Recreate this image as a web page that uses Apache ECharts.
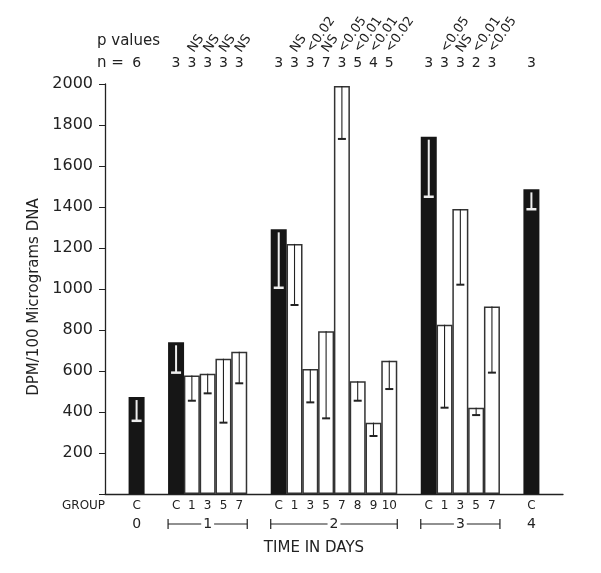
<!DOCTYPE html>
<html>
<head>
<meta charset="utf-8">
<script src="https://cdn.jsdelivr.net/npm/echarts@6.0.0/dist/echarts.min.js"></script>
<style>
  html, body { margin: 0; padding: 0; background: #fff; }
  #chart { width: 601px; height: 573px; }
</style>
</head>
<body>
<div id="chart"></div>
<script>
// values
var days = ['0', '1', '2', '3', '4'];
var barDay = [0, 1, 1, 1, 1, 1, 2, 2, 2, 2, 2, 2, 2, 2, 3, 3, 3, 3, 3, 4];
var groups = ['C', 'C', '1', '3', '5', '7', 'C', '1', '3', '5', '7', '8', '9', '10', 'C', '1', '3', '5', '7', 'C'];
var means = [473, 740, 578, 587, 660, 694, 1291, 1220, 610, 794, 1990, 550, 348, 650, 1743, 826, 1390, 421, 915, 1486];
var lower = [357, 592, 455, 491, 348, 540, 1006, 922, 447, 369, 1732, 455, 283, 512, 1450, 421, 1021, 385, 592, 1389];
var nValues = ['6', '3', '3', '3', '3', '3', '3', '3', '3', '7', '3', '5', '4', '5', '3', '3', '3', '2', '3', '3'];
var pValues = ['', '', 'NS', 'NS', 'NS', 'NS', '', 'NS', '<0.02', 'NS', '<0.05', '<0.01', '<0.01', '<0.02', '', '<0.05', 'NS', '<0.01', '<0.05', ''];

var FONT = 'DejaVu Sans';
var INK = '#222';

// half-slot category positions: bars take 2 slots, day groups 5 apart
var slot = [];
var pos = 4;
for (var i = 0; i < groups.length; i++) {
  if (i > 0) pos += barDay[i] !== barDay[i - 1] ? 5 : 2;
  slot.push(pos);
}
var nCat = slot[slot.length - 1] + 5;

function blank(v) { var a = []; for (var k = 0; k < nCat; k++) a.push(v); return a; }
var catLabels = blank(''), nLabels = blank('');
var ctrlData = blank('-'), trtData = blank('-');
var errData = [], pData = [];
slot.forEach(function (s, i) {
  catLabels[s] = groups[i];
  nLabels[s] = nValues[i];
  if (groups[i] === 'C') ctrlData[s] = means[i]; else trtData[s] = means[i];
  errData.push([s, means[i], lower[i], groups[i] === 'C' ? 1 : 0]);
  if (pValues[i]) pData.push([s, 2000, pValues[i]]);
});

var dayData = days.map(function (d, di) {
  var idx = slot.filter(function (s, i) { return barDay[i] === di; });
  return [idx[0], idx[idx.length - 1], 0];
});

function renderErr(params, api) {
  var top = api.coord([api.value(0), api.value(1)]);
  var low = api.coord([api.value(0), api.value(2)]);
  var ctrl = api.value(3) === 1;
  var color = ctrl ? '#eeeeee' : INK;
  var cap = ctrl ? 5 : 4;
  return {
    type: 'group',
    children: [
      { type: 'line', shape: { x1: top[0], y1: top[1] + (ctrl ? 3 : 0), x2: low[0], y2: low[1] },
        style: { stroke: color, lineWidth: ctrl ? 2 : 1.1 } },
      { type: 'line', shape: { x1: low[0] - cap, y1: low[1], x2: low[0] + cap, y2: low[1] },
        style: { stroke: color, lineWidth: ctrl ? 2.5 : 2 } }
    ]
  };
}

// slanted p value above each n count
function renderP(params, api) {
  var p = api.coord([api.value(0), api.value(1)]);
  return {
    type: 'text', x: p[0] - 1, y: p[1] - 33, rotation: 55 * Math.PI / 180,
    style: { text: pData[params.dataIndex][2], fill: INK, font: '13px ' + FONT,
      align: 'left', verticalAlign: 'middle' }
  };
}

function renderDay(params, api) {
  var a = api.coord([api.value(0), 0]);
  var b = api.coord([api.value(1), 0]);
  var y = a[1] + 30;
  var children = [];
  if (api.value(1) > api.value(0)) {
    var x1 = a[0] - 8, x2 = b[0] + 8;
    var st = { stroke: INK, lineWidth: 1.2 };
    children.push({ type: 'line', shape: { x1: x1, y1: y, x2: x2, y2: y }, style: st });
    children.push({ type: 'line', shape: { x1: x1, y1: y - 5, x2: x1, y2: y + 5 }, style: st });
    children.push({ type: 'line', shape: { x1: x2, y1: y - 5, x2: x2, y2: y + 5 }, style: st });
  }
  children.push({
    type: 'text', x: (a[0] + b[0]) / 2, y: y,
    style: { text: days[params.dataIndex], fill: INK, font: '14px ' + FONT,
      align: 'center', verticalAlign: 'middle', backgroundColor: '#fff', padding: [0, 2] }
  });
  return { type: 'group', children: children };
}

var chart = echarts.init(document.getElementById('chart'));
chart.setOption({
  animation: false,
  backgroundColor: '#fff',
  textStyle: { fontFamily: FONT, color: INK },
  grid: { left: 105, right: 38, top: 84, bottom: 79 },
  xAxis: [
    {
      type: 'category', boundaryGap: false, data: catLabels,
      axisLine: { lineStyle: { color: INK, width: 1.3 } },
      axisTick: { show: false },
      axisLabel: { interval: 0, margin: 6, fontSize: 12, color: INK, fontFamily: FONT }
    },
    {
      type: 'category', position: 'top', boundaryGap: false, data: nLabels,
      axisLine: { show: false }, axisTick: { show: false },
      axisLabel: { interval: 0, margin: 14, fontSize: 14, color: INK, fontFamily: FONT }
    }
  ],
  yAxis: {
    type: 'value', min: 0, max: 2000, interval: 200,
    name: 'DPM/100 Micrograms DNA', nameLocation: 'middle', nameRotate: 90, nameGap: 58,
    nameTextStyle: { fontSize: 15, color: INK, fontFamily: FONT, padding: [0, 16, 0, 0] },
    axisLine: { show: true, lineStyle: { color: INK, width: 1.3 } },
    axisTick: { show: true, length: 6, lineStyle: { color: INK } },
    splitLine: { show: false },
    axisLabel: {
      margin: 12, fontSize: 16, color: INK, fontFamily: FONT,
      formatter: function (v) { return v === 0 ? '' : v; }
    }
  },
  series: [
    {
      type: 'bar', data: ctrlData, barWidth: 16, barGap: '-100%',
      itemStyle: { color: '#161616' }
    },
    {
      type: 'bar', data: trtData, barWidth: 16,
      itemStyle: { color: '#fff', borderColor: '#333', borderWidth: 1.5 }
    },
    {
      type: 'custom', data: errData, renderItem: renderErr,
      encode: { x: 0, y: [1, 2] }, z: 5
    },
    {
      type: 'custom', data: pData, renderItem: renderP,
      encode: { x: 0, y: 1 }, clip: false, z: 5
    },
    {
      type: 'custom', data: dayData, renderItem: renderDay,
      encode: { x: [0, 1], y: 2 }, clip: false, z: 5
    }
  ],
  graphic: [
    { type: 'text', x: 97, y: 41, style: { text: 'p values', font: '15px ' + FONT, fill: INK, verticalAlign: 'middle' } },
    { type: 'text', x: 97, y: 63, style: { text: 'n =', font: '15px ' + FONT, fill: INK, verticalAlign: 'middle' } },
    { type: 'text', x: 62, y: 506, style: { text: 'GROUP', font: '12px ' + FONT, fill: INK, verticalAlign: 'middle' } },
    { type: 'text', x: 314, y: 548, style: { text: 'TIME IN DAYS', font: '15px ' + FONT, fill: INK, align: 'center', verticalAlign: 'middle' } }
  ]
});
</script>
</body>
</html>
